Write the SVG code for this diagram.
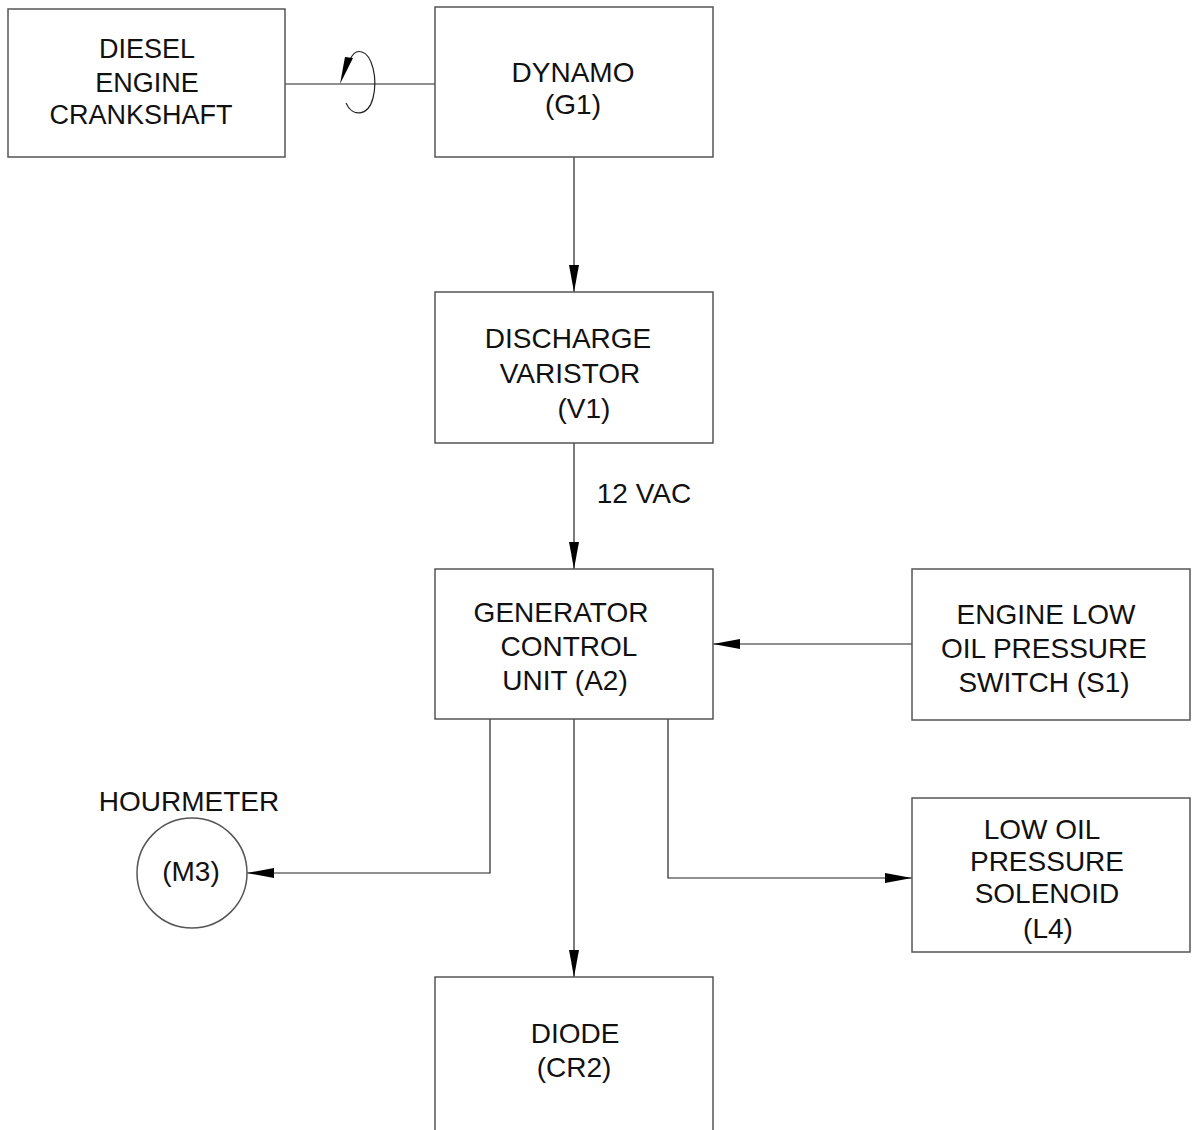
<svg xmlns="http://www.w3.org/2000/svg" width="1195" height="1130" viewBox="0 0 1195 1130">
<style>
.box{fill:#fff;stroke:#555;stroke-width:1.5}
.ln{fill:none;stroke:#222;stroke-width:1.2}
text{font-family:"Liberation Sans",Arial,sans-serif;font-size:28px;fill:#111;text-anchor:middle}
.sm{font-size:27px}
</style>
<defs>
<marker id="ah" markerWidth="27" markerHeight="11" refX="27" refY="5.5" orient="auto" markerUnits="userSpaceOnUse">
<path d="M0,0.5 L27,5.5 L0,10.5 Z" fill="#000"/>
</marker>
</defs>
<rect width="1195" height="1130" fill="#fff"/>
<g id="connectors">
<line class="ln" x1="285" y1="84" x2="435" y2="84"/>
<path class="ln" d="M346,103 C352,117 368,117 373,98 C378,78 372,55 362,52 C356,50 352,55 350,60"/>
<path d="M353,58 L340,84 L345,57 Z" fill="#000"/>
<line class="ln" x1="574" y1="157" x2="574" y2="292" marker-end="url(#ah)"/>
<line class="ln" x1="574" y1="443" x2="574" y2="569" marker-end="url(#ah)"/>
<line class="ln" x1="912" y1="644" x2="713" y2="644" marker-end="url(#ah)"/>
<polyline class="ln" points="490,719 490,873 247,873" marker-end="url(#ah)"/>
<line class="ln" x1="574" y1="719" x2="574" y2="977" marker-end="url(#ah)"/>
<polyline class="ln" points="668,719 668,878 912,878" marker-end="url(#ah)"/>
</g>
<text x="644" y="503">12 VAC</text>
<g id="diesel">
<rect class="box" x="8" y="9" width="277" height="148"/>
<text class="sm" x="147" y="58">DIESEL</text>
<text class="sm" x="147" y="92">ENGINE</text>
<text class="sm" x="141" y="124">CRANKSHAFT</text>
</g>
<g id="dynamo">
<rect class="box" x="435" y="7" width="278" height="150"/>
<text x="573" y="82">DYNAMO</text>
<text x="573" y="114">(G1)</text>
</g>
<g id="varistor">
<rect class="box" x="435" y="292" width="278" height="151"/>
<text x="568" y="348">DISCHARGE</text>
<text x="570" y="383">VARISTOR</text>
<text x="584" y="418">(V1)</text>
</g>
<g id="gcu">
<rect class="box" x="435" y="569" width="278" height="150"/>
<text x="561" y="622">GENERATOR</text>
<text x="569" y="656">CONTROL</text>
<text x="565" y="690">UNIT (A2)</text>
</g>
<g id="switch">
<rect class="box" x="912" y="569" width="278" height="151"/>
<text x="1046" y="624">ENGINE LOW</text>
<text x="1044" y="658">OIL PRESSURE</text>
<text x="1044" y="692">SWITCH (S1)</text>
</g>
<g id="hourmeter">
<circle class="box" cx="192" cy="873" r="55"/>
<text x="189" y="811">HOURMETER</text>
<text x="191" y="881">(M3)</text>
</g>
<g id="solenoid">
<rect class="box" x="912" y="798" width="278" height="154"/>
<text x="1042" y="839">LOW OIL</text>
<text x="1047" y="871">PRESSURE</text>
<text x="1047" y="903">SOLENOID</text>
<text x="1048" y="938">(L4)</text>
</g>
<g id="diode">
<polyline class="box" points="435,1131 435,977 713,977 713,1131"/>
<text x="575" y="1043">DIODE</text>
<text x="574" y="1077">(CR2)</text>
</g>
</svg>
